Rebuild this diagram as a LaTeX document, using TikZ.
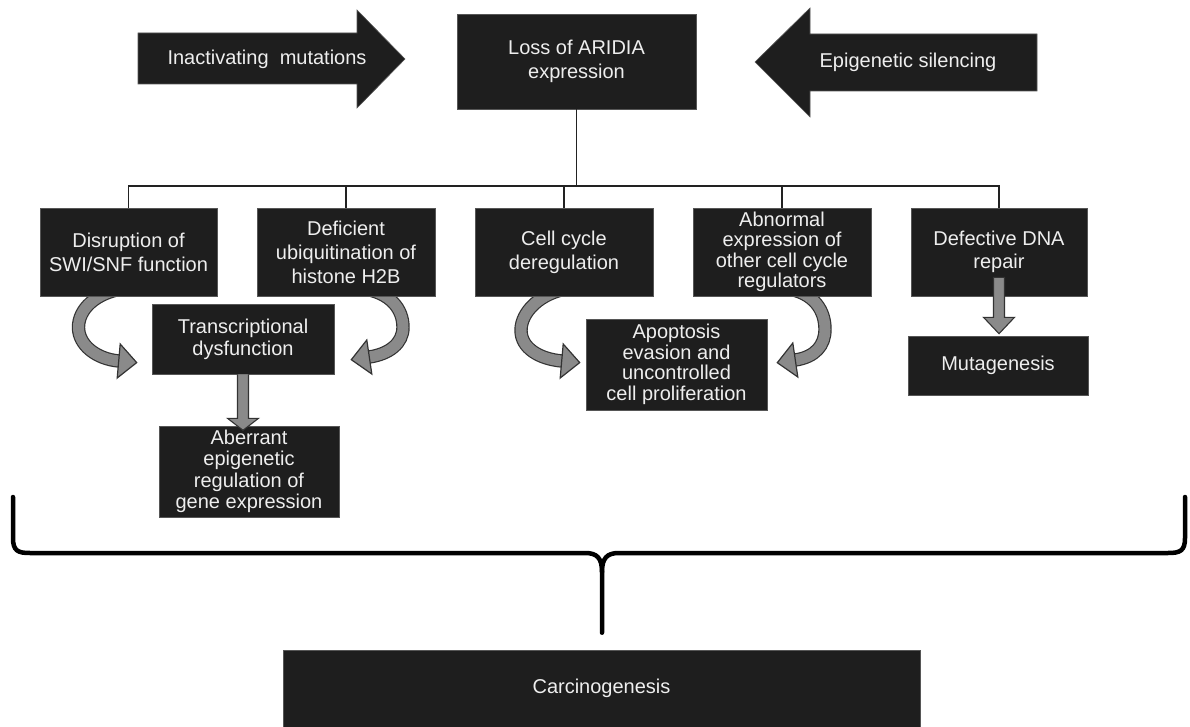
\documentclass[tikz,border=0pt]{standalone}
\usepackage{fontspec}
\setmainfont{Liberation Sans}
\usetikzlibrary{calc}
\pgfdeclarelayer{bg}
\pgfsetlayers{bg,main}
\definecolor{boxc}{HTML}{1E1E1E}
\definecolor{txtc}{HTML}{EEEEEE}
\definecolor{arrg}{HTML}{8A8A8A}
\definecolor{arrd}{HTML}{333333}
\definecolor{linec}{HTML}{222222}
\begin{document}
\begin{tikzpicture}[x=1pt,y=-1pt,
  box/.style={fill=boxc, draw=boxc!75!white, line width=0.6pt, text=txtc, align=center, inner sep=0pt, font=\fontsize{20}{24}\selectfont},
  lbl/.style={text=txtc, align=center, inner sep=0pt, font=\fontsize{20}{24}\selectfont},
  bigarrow/.style={fill=boxc, draw=boxc!75!white, line width=0.6pt},
  conn/.style={draw=linec, line width=1.8pt},
  band/.style={draw=arrd, line width=1.2pt, double=arrg, double distance=11pt},
  headst/.style={fill=arrg, draw=arrd, line width=1.2pt, line join=miter},
  fatarrow/.style={fill=arrg, draw=arrd, line width=1.1pt},
  bracest/.style={draw=black, line width=4.5pt, line cap=round, line join=round}
]
\useasboundingbox (0,0) rectangle (1190,727);

% top arrows
\filldraw[bigarrow] (138,33) -- (357,33) -- (357,10) -- (405,59) -- (357,108) -- (357,84) -- (138,84) -- cycle;
\filldraw[bigarrow] (1037,34) -- (810,34) -- (810,8) -- (755,62) -- (810,117) -- (810,91) -- (1037,91) -- cycle;
\node[lbl] (inact) at (267,59) {Inactivating~~mutations};
\node[lbl] (epi) at (908,62) {Epigenetic silencing};

% boxes
\node[box, minimum width=239pt, minimum height=95pt] (loss) at (576.5,61.5) {Loss of ARIDIA\\expression};
\node[box, minimum width=177pt, minimum height=88pt] (disr) at (128.5,252) {Disruption of\\SWI/SNF function};
\node[box, minimum width=178pt, minimum height=88pt] (defi) at (346,252) {Deficient\\ubiquitination of\\histone H2B};
\node[box, minimum width=178pt, minimum height=88pt] (cell) at (564,252) {Cell cycle\\deregulation};
\node[box, minimum width=178pt, minimum height=88pt, font=\fontsize{20}{20.5}\selectfont] (abno) at (782,252) {Abnormal\\expression of\\other cell cycle\\regulators};
\node[box, minimum width=176pt, minimum height=88pt, font=\fontsize{20}{23}\selectfont] (defe) at (999,252) {Defective DNA\\repair};
\node[box, minimum width=182pt, minimum height=70pt, font=\fontsize{20}{22}\selectfont] (trans) at (243,339) {Transcriptional\\dysfunction};
\node[box, minimum width=181pt, minimum height=91pt, font=\fontsize{20}{20.5}\selectfont] (apop) at (676.5,364.5) {Apoptosis\\evasion and\\uncontrolled\\cell proliferation};
\node[box, minimum width=180pt, minimum height=91pt, font=\fontsize{20}{21.5}\selectfont] (aber) at (249,471.5) {Aberrant\\epigenetic\\regulation of\\gene expression};
\node[box, minimum width=180pt, minimum height=59pt] (muta) at (998,365.5) {Mutagenesis};
\node[box, minimum width=637pt, minimum height=77pt] (carc) at (601.5,688.5) {Carcinogenesis};

% tree connectors
\coordinate (hub) at ($(loss.south)+(0,77)$);
\draw[conn] (loss.south) -- (hub);
\draw[conn, line join=miter] (disr.north) -- (disr.north |- hub) -- (defe.north |- hub) -- (defe.north);
\draw[conn] (defi.north |- hub) -- (defi.north);
\draw[conn] (cell.north |- hub) -- (cell.north);
\draw[conn] (abno.north |- hub) -- (abno.north);

% curved arrows (behind boxes)
\begin{pgfonlayer}{bg}
\coordinate (a1s) at ($(disr.south)+(-3,-8)$);
\coordinate (a1m) at ($(disr.south)+(-50,31)$);
\coordinate (a1b) at ($(trans.west)+(-33,22)$);
\draw[band] (a1s) .. controls +(-30,4) and +(0,-18) .. (a1m) .. controls +(0,18) and +(-22,-2) .. (a1b);
\filldraw[headst] ($(a1b)+(1.5,-17)$) -- ($(a1b)+(18,1.6)$) -- ($(a1b)+(-1.5,17)$) -- cycle;

\coordinate (a2s) at ($(defi.south)+(15,-8)$);
\coordinate (a2m) at ($(defi.south)+(57,31)$);
\coordinate (a2b) at ($(trans.east)+(35,18)$);
\draw[band] (a2s) .. controls +(30,4) and +(0,-18) .. (a2m) .. controls +(0,16) and +(20,-3) .. (a2b);
\filldraw[headst] ($(a2b)+(-2.5,-17)$) -- ($(a2b)+(-18,2.7)$) -- ($(a2b)+(2.5,17)$) -- cycle;

\coordinate (a3s) at ($(cell.south)+(6,-8)$);
\coordinate (a3m) at ($(cell.south)+(-43,34)$);
\coordinate (a3b) at ($(apop.west)+(-24,-3.5)$);
\draw[band] (a3s) .. controls +(-30,4) and +(0,-18) .. (a3m) .. controls +(0,18) and +(-22,-2) .. (a3b);
\filldraw[headst] ($(a3b)+(1.5,-17)$) -- ($(a3b)+(18,1.6)$) -- ($(a3b)+(-1.5,17)$) -- cycle;

\coordinate (a4s) at ($(abno.south)+(3,-8)$);
\coordinate (a4m) at ($(abno.south)+(43,33)$);
\coordinate (a4b) at ($(apop.east)+(28,-4.5)$);
\draw[band] (a4s) .. controls +(30,4) and +(0,-18) .. (a4m) .. controls +(0,16) and +(20,-3) .. (a4b);
\filldraw[headst] ($(a4b)+(-2.5,-17)$) -- ($(a4b)+(-18,2.7)$) -- ($(a4b)+(2.5,17)$) -- cycle;
\end{pgfonlayer}

% straight fat arrows
\filldraw[fatarrow] ($(trans.south)+(-5.5,0)$) -- ($(trans.south)+(-5.5,44)$) -- ($(trans.south)+(-15.5,44)$) -- ($(trans.south)+(0,56)$) -- ($(trans.south)+(15.5,44)$) -- ($(trans.south)+(5.5,44)$) -- ($(trans.south)+(5.5,0)$);
\filldraw[fatarrow] ($(defe.south)+(-5.5,-19)$) -- ($(defe.south)+(-5.5,21)$) -- ($(defe.south)+(-15.5,21)$) -- ($(muta.north)+(1,-2)$) -- ($(defe.south)+(15.5,21)$) -- ($(defe.south)+(5.5,21)$) -- ($(defe.south)+(5.5,-19)$) -- cycle;

% brace
\coordinate (btip) at ($(carc.north)+(0.5,-17)$);
\draw[bracest] (13,497) -- (13,538) .. controls (13,551) and (18,553) .. (30,553) -- (585,553) .. controls (597,553) and (602,558) .. (602,572) -- (btip);
\draw[bracest] (1185,497) -- (1185,538) .. controls (1185,551) and (1180,553) .. (1168,553) -- (619,553) .. controls (607,553) and (602,558) .. (602,572);
\end{tikzpicture}
\end{document}
